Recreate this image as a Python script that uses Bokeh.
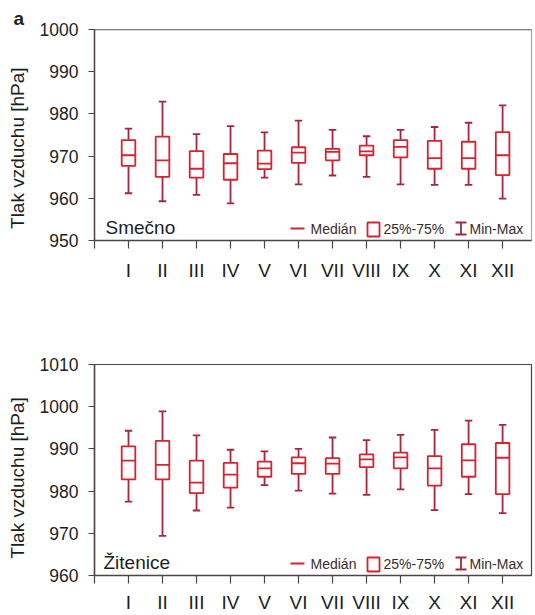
from bokeh.plotting import figure
from bokeh.models import (Range1d, FixedTicker, Label, BoxAnnotation, Arrow,
                          Span, ColumnDataSource)
from bokeh.layouts import column
from bokeh.embed import file_html
from bokeh.resources import INLINE

# ---------------- data ----------------
months = ["I", "II", "III", "IV", "V", "VI", "VII", "VIII", "IX", "X", "XI", "XII"]

smecno_min = [961.2, 959.3, 960.8, 958.8, 964.9, 963.3, 965.4, 965.1, 963.3, 963.2, 963.2, 959.9]
smecno_q1 = [967.7, 965.1, 964.9, 964.4, 966.9, 968.4, 969.0, 970.2, 969.7, 967.0, 967.0, 965.5]
smecno_med = [970.2, 969.0, 967.0, 968.3, 968.2, 970.8, 971.0, 971.1, 972.2, 969.5, 969.5, 970.2]
smecno_q3 = [973.8, 974.6, 971.2, 970.5, 971.3, 972.1, 971.7, 972.5, 973.8, 973.6, 973.4, 975.7]
smecno_max = [976.5, 982.9, 975.2, 977.1, 975.6, 978.4, 976.2, 974.7, 976.2, 976.9, 977.9, 982.0]
smecno_ticks = [950, 960, 970, 980, 990, 1000]

zitenice_min = [977.5, 969.4, 975.4, 976.1, 981.4, 980.1, 979.4, 979.1, 980.4, 975.5, 979.3, 974.8]
zitenice_q1 = [982.8, 982.8, 979.5, 980.8, 983.4, 984.1, 984.1, 985.7, 985.4, 981.3, 983.4, 979.3]
zitenice_med = [987.2, 986.2, 982.0, 983.9, 985.4, 986.6, 986.5, 987.5, 988.0, 985.4, 987.3, 987.9]
zitenice_q3 = [990.6, 991.9, 987.2, 986.7, 987.0, 988.0, 987.8, 988.7, 989.1, 988.3, 991.1, 991.4]
zitenice_max = [994.3, 998.9, 993.2, 989.8, 989.4, 990.0, 992.7, 992.1, 993.3, 994.5, 996.7, 995.7]
zitenice_ticks = [960, 970, 980, 990, 1000, 1010]

y_title = "Tlak vzduchu [hPa]"
legend_labels = ["Medián", "25%-75%", "Min-Max"]

# ---------------- style ----------------
FONT = "Liberation Sans"
BOX = "#d8222e"
WHISK = "#a3283c"
AXIS = "#4e4444"
TXT = "#1e1e1e"


def panel(name, lo, q1, med, q3, hi, yticks, height, b_top, b_bottom,
          title_pad, name_xy, outline, top_line=None, tag="",
          x_standoff=11, x_tick=8):
    p = figure(width=535, height=height, output_backend="svg",
               toolbar_location=None,
               x_range=Range1d(0, 12.85),
               y_range=Range1d(yticks[0], yticks[-1]),
               min_border_left=94, min_border_right=4,
               min_border_top=b_top, min_border_bottom=b_bottom)
    p.grid.visible = False
    p.background_fill_color = "white"
    p.border_fill_color = "white"
    p.outline_line_color = outline
    p.outline_line_width = 1.2

    if tag:
        p.title.text = tag
        p.title.align = "left"
        p.title.offset = -81
        p.title.standoff = 1
        p.title.text_font = FONT
        p.title.text_font_size = "19px"
        p.title.text_font_style = "bold"
        p.title.text_color = TXT

    xs = list(range(1, len(months) + 1))
    src = ColumnDataSource(dict(
        x=xs, lo=lo, q1=q1, med=med, q3=q3, hi=hi,
        left=[v - 0.2 for v in xs], right=[v + 0.2 for v in xs],
        cl=[v - 0.11 for v in xs], cr=[v + 0.11 for v in xs]))

    p.segment(x0="x", y0="lo", x1="x", y1="hi", source=src,
              line_color=WHISK, line_width=1.8)
    p.segment(x0="cl", y0="lo", x1="cr", y1="lo", source=src,
              line_color=WHISK, line_width=1.8)
    p.segment(x0="cl", y0="hi", x1="cr", y1="hi", source=src,
              line_color=WHISK, line_width=1.8)
    p.quad(left="left", right="right", bottom="q1", top="q3", source=src,
           fill_color="white", line_color=BOX, line_width=1.8)
    p.segment(x0="left", y0="med", x1="right", y1="med", source=src,
              line_color=BOX, line_width=1.8)

    if top_line:
        p.add_layout(Span(location=yticks[-1], dimension="width",
                          line_color=top_line, line_width=1.5))

    # x axis
    xa = p.xaxis[0]
    xa.ticker = FixedTicker(ticks=list(range(0, len(months) + 1)))
    ov = {0: ""}
    for i, m in enumerate(months):
        ov[i + 1] = m
    xa.major_label_overrides = ov
    xa.major_tick_out = x_tick
    xa.major_tick_in = 0
    xa.minor_tick_out = 0
    xa.minor_tick_in = 0
    xa.major_label_standoff = x_standoff
    xa.major_label_text_font = FONT
    xa.major_label_text_font_size = "19px"
    xa.major_label_text_color = TXT
    xa.axis_line_color = AXIS
    xa.axis_line_width = 1.5
    xa.major_tick_line_color = AXIS
    xa.major_tick_line_width = 1.2

    # y axis
    ya = p.yaxis[0]
    ya.ticker = FixedTicker(ticks=yticks)
    ya.major_tick_out = 6
    ya.major_tick_in = 0
    ya.minor_tick_out = 0
    ya.minor_tick_in = 0
    ya.major_label_standoff = 10
    ya.major_label_text_font = FONT
    ya.major_label_text_font_size = "17.5px"
    ya.major_label_text_color = TXT
    ya.axis_line_color = AXIS
    ya.axis_line_width = 1.5
    ya.major_tick_line_color = AXIS
    ya.major_tick_line_width = 1.2
    ya.axis_label = y_title + " " * title_pad
    ya.axis_label_standoff = 9
    ya.axis_label_text_font = FONT
    ya.axis_label_text_font_size = "19px"
    ya.axis_label_text_font_style = "normal"
    ya.axis_label_text_color = TXT

    # station name
    p.add_layout(Label(x=name_xy[0], y=name_xy[1], x_units="screen",
                       y_units="screen", text=name, text_align="left",
                       text_baseline="middle", text_font=FONT,
                       text_font_size="19px", text_color=TXT))

    # legend (screen units, relative to frame)
    p.add_layout(Arrow(end=None, x_start=196, y_start=12, x_end=210, y_end=12,
                       start_units="screen", end_units="screen",
                       line_color=BOX, line_width=1.8))
    p.add_layout(BoxAnnotation(left=273, right=285, bottom=4, top=18,
                               left_units="screen", right_units="screen",
                               bottom_units="screen", top_units="screen",
                               fill_color="white", fill_alpha=1,
                               line_color=BOX, line_alpha=1, line_width=1.8))
    for (x0, y0, x1, y1) in [(366.5, 6, 366.5, 18), (361, 6, 372, 6),
                             (361, 18, 372, 18)]:
        p.add_layout(Arrow(end=None, x_start=x0, y_start=y0, x_end=x1,
                           y_end=y1, start_units="screen", end_units="screen",
                           line_color=WHISK, line_width=1.8))
    for lx, lt in zip([216, 289, 375], legend_labels):
        p.add_layout(Label(x=lx, y=12, x_units="screen", y_units="screen",
                           text=lt, text_align="left",
                           text_baseline="middle", text_font=FONT,
                           text_font_size="14px", text_color="#3a2c2c"))
    return p


top = panel("Smečno", smecno_min, smecno_q1, smecno_med, smecno_q3,
            smecno_max, smecno_ticks, 300, 29, 60, 5, (11, 13.5),
            outline="#a8a8a8", top_line="#4b5570", tag="a")
bottom = panel("Žitenice", zitenice_min, zitenice_q1, zitenice_med,
               zitenice_q3, zitenice_max, zitenice_ticks, 315, 64, 38, 3,
               (9, 13), outline="#4e4444", x_standoff=8, x_tick=8)

layout = column(top, bottom)
open("out.html", "w").write(file_html(layout, INLINE))
